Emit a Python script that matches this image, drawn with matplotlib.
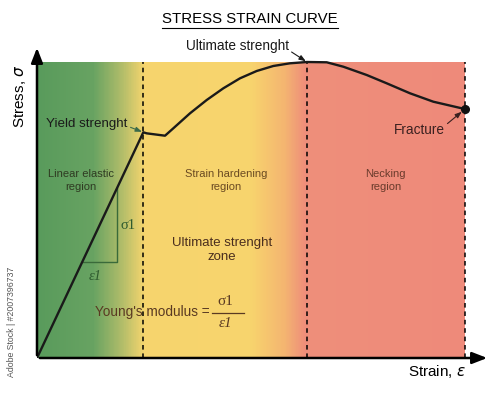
import numpy as np
import matplotlib.pyplot as plt
from matplotlib.colors import LinearSegmentedColormap
from matplotlib.lines import Line2D

plt.rcParams['font.family'] = ['Liberation Sans', 'DejaVu Sans']

# ---- data (strain normalised to fracture, stress normalised to ultimate) ----
strain = [0.0, 0.2484, 0.2563, 0.2991, 0.3185, 0.3575, 0.3965, 0.4353, 0.4743,
          0.5133, 0.5521, 0.5911, 0.6308, 0.6769, 0.7157, 0.7703, 0.8171, 0.8715,
          0.9259, 1.0]
stress = [0.0, 0.7625, 0.759, 0.751, 0.776, 0.8267, 0.8716, 0.9111, 0.9449,
          0.9696, 0.9865, 0.9956, 1.0, 0.999, 0.9841, 0.9561, 0.928, 0.8943,
          0.8659, 0.841]
yield_pt = (0.2484, 0.7625)
ultimate_pt = (0.6308, 1.0)
fracture_pt = (1.0, 0.841)
region_bounds = [0.2477, 0.631, 1.0]
region_labels = ["Linear elastic\nregion", "Strain hardening\nregion", "Necking\nregion"]
region_centers = [0.103, 0.442, 0.815]

fig = plt.figure(figsize=(5, 4), dpi=100)
ax = fig.add_axes([37/500, 42/400, 453/500, 313/400])
ax.set_xlim(0, 453/428)
ax.set_ylim(0, 313/296)
ax.axis('off')

# background gradient
stops = [(0.0, '#599b5c'), (0.13, '#68a362'), (0.19, '#a9ba69'), (0.25, '#f6d56e'),
         (0.50, '#f8d46d'), (0.58, '#f4b571'), (0.625, '#ef8f7a'), (1.0, '#ee8a7b')]
cmap = LinearSegmentedColormap.from_list('bg', stops)
grad = np.linspace(0, 1, 600).reshape(1, -1)
ax.imshow(grad, extent=[0, 1, 0, 1], aspect='auto', cmap=cmap, origin='lower', zorder=0)

# dashed region boundaries
for b in region_bounds:
    ax.plot([b, b], [0, 1], color='black', lw=1.1, ls=(0, (3, 2.5)), zorder=2)

# axes arrows
ax.annotate('', xy=(453/428, 0), xytext=(0, 0),
            arrowprops=dict(arrowstyle='-|>,head_length=0.9,head_width=0.35', color='black', lw=1.8),
            zorder=5)
ax.annotate('', xy=(0, 313/296), xytext=(0, 0),
            arrowprops=dict(arrowstyle='-|>,head_length=0.9,head_width=0.35', color='black', lw=1.8),
            zorder=5)

# curve
ax.plot(strain, stress, color='#1a1a1a', lw=1.7, zorder=4, solid_joinstyle='round')
ax.plot(*fracture_pt, 'o', color='#111111', ms=5.5, zorder=5)

# triangle
ax.plot([0.1075, 0.187, 0.187], [0.325, 0.325, 0.574], color='#3a6a3a', lw=1.0, zorder=3)
ax.text(0.213, 0.449, 'σ1', family=['Liberation Serif'], fontsize=10.5, color='#2e5a2e',
        ha='center', va='center')
ax.text(0.136, 0.274, 'ε1', family=['Liberation Serif'], fontsize=10.5, color='#2e5a2e',
        ha='center', va='center', style='italic')

# region labels
region_colors = ['#2f3b22', '#6a4a22', '#6a3b2c']
for c, lab, col in zip(region_centers, region_labels, region_colors):
    ax.text(c, 0.599, lab, ha='center', va='center', fontsize=8, color=col, linespacing=1.3)

ax.text(0.432, 0.365, 'Ultimate strenght\nzone', ha='center', va='center', fontsize=9.5,
        color='#4a2e1e', linespacing=1.3)
ax.text(0.404, 0.155, "Young's modulus =", ha='right', va='center', fontsize=9.8, color='#5a3a22')
ax.text(0.441, 0.190, 'σ1', family=['Liberation Serif'], fontsize=11, color='#5a3a22',
        ha='center', va='center')
ax.text(0.441, 0.118, 'ε1', family=['Liberation Serif'], fontsize=11, color='#5a3a22',
        ha='center', va='center', style='italic')
ax.plot([0.409, 0.484], [0.152, 0.152], color='#5a3a22', lw=0.9)

# annotations
ax.annotate('Yield strenght', xy=yield_pt, xytext=(0.117, 0.791), ha='center', va='center',
            fontsize=9.6, color='#1a1a1a',
            arrowprops=dict(arrowstyle='-|>,head_length=0.4,head_width=0.15', color='#3a6a4a', lw=0.8,
                            shrinkA=0, shrinkB=1, relpos=(1.0, 0.3)))
ax.annotate('Ultimate strenght', xy=ultimate_pt, xytext=(0.468, 1.054), ha='center', va='center',
            fontsize=9.8, color='#1a1a1a', annotation_clip=False,
            arrowprops=dict(arrowstyle='-|>,head_length=0.4,head_width=0.15', color='#1a1a1a', lw=0.8,
                            shrinkA=0, shrinkB=1, relpos=(1.0, 0.2)))
ax.annotate('Fracture', xy=fracture_pt, xytext=(0.893, 0.770), ha='center', va='center',
            fontsize=9.8, color='#3a2020',
            arrowprops=dict(arrowstyle='-|>,head_length=0.4,head_width=0.15', color='#3a2020', lw=0.8,
                            shrinkA=0, shrinkB=3, relpos=(1.0, 0.8)))

# axis labels
fig.text(20/500, 1-96/400, 'Stress, $\\sigma$', rotation=90, ha='center', va='center', fontsize=11)
fig.text(437/500, 1-372/400, 'Strain, $\\varepsilon$', ha='center', va='center', fontsize=11)

# title with underline
fig.text(0.5, 1-19/400, 'STRESS STRAIN CURVE', ha='center', va='center', fontsize=10.8)
fig.add_artist(Line2D([162/500, 338/500], [1-28/400, 1-28/400], color='black', lw=0.8))

# stock id
fig.text(12/500, 1-322/400, 'Adobe Stock | #2007396737', rotation=90, ha='center', va='center',
         fontsize=6.3, color='#555555')

fig.savefig('out.png', dpi=100)
